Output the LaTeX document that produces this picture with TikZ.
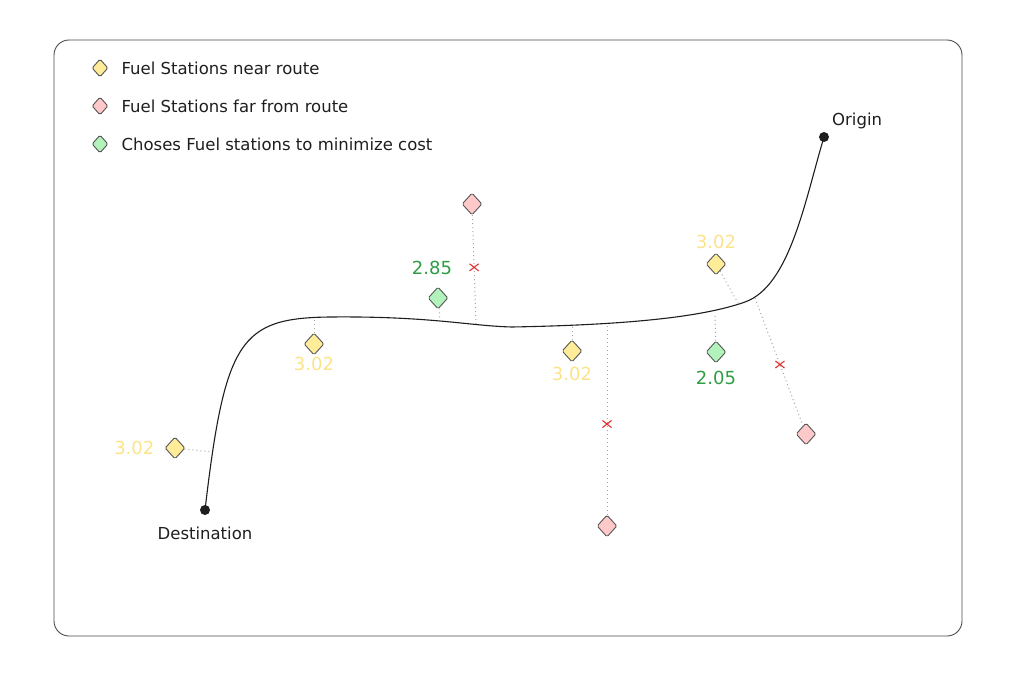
\documentclass[tikz,border=0pt]{standalone}
\usepackage{fontspec}
\setmainfont{DejaVu Sans}
\usetikzlibrary{shapes.geometric,shapes.misc,positioning}

\definecolor{nearfill}{HTML}{FFEC99}
\definecolor{farfill}{HTML}{FFC9C9}
\definecolor{pickfill}{HTML}{B2F2BB}
\definecolor{nearink}{HTML}{FCE38A}
\definecolor{pickink}{HTML}{2F9E44}
\definecolor{crossink}{HTML}{E03131}
\definecolor{inkdark}{HTML}{1E1E1E}

\tikzset{
  station/.style={diamond, draw=inkdark!75, line width=0.9pt, rounded corners=1.5pt,
    minimum width=20pt, minimum height=22pt, inner sep=0pt},
  near/.style={station, fill=nearfill},
  far/.style={station, fill=farfill},
  pick/.style={station, fill=pickfill},
  legmark/.style={minimum width=16pt, minimum height=18pt},
  legtext/.style={inner sep=0pt, font=\fontsize{16.5}{19}\selectfont, text=inkdark},
  link/.style={gray!70, line width=1pt, dash pattern=on 1pt off 3pt},
  nearcost/.style={inner sep=0pt, font=\fontsize{18}{21}\selectfont, text=nearink},
  pickcost/.style={inner sep=0pt, font=\fontsize{18}{21}\selectfont, text=pickink},
  reject/.style={cross out, solid, draw=crossink, line width=1.1pt, minimum width=8pt,
    minimum height=6pt, inner sep=0pt},
}

\begin{document}
\begin{tikzpicture}[x=1pt, y=-1pt]
  \useasboundingbox (0,0) rectangle (1022,679);

  % Frame
  \draw[inkdark!80, line width=0.9pt, rounded corners=15pt] (54,40) rectangle (962,636);

  % Legend
  \node[near, legmark] (legnear) at (100,68)  {};
  \node[far,  legmark] (legfar)  at (100,106) {};
  \node[pick, legmark] (legpick) at (100,144) {};
  \node[legtext, right=13pt of legnear] (txtnear) {Fuel Stations near route};
  \node[legtext, right=13pt of legfar]  (txtfar)  {Fuel Stations far from route};
  \node[legtext, right=13pt of legpick] (txtpick) {Choses Fuel stations to minimize cost};

  % Route: Destination -> Origin
  \coordinate (D) at (205,510);
  \coordinate (O) at (824,137);
  \draw[inkdark, line width=1.1pt] (D)
    .. controls (225,340) and (240,318) .. (330,317)
    .. controls (430,316) and (470,326) .. (512,327)
    .. controls (620,325) and (700,318) .. (745,302)
    .. controls (790,286) and (805,200) .. (O);

  % Points on the route
  \coordinate (r1) at (212,452);
  \coordinate (r2) at (314,318);
  \coordinate (r3) at (440,320);
  \coordinate (r4) at (476,324);
  \coordinate (r5) at (572,327);
  \coordinate (r6) at (607,326);
  \coordinate (r7) at (715,316);
  \coordinate (r8) at (738,303);
  \coordinate (r9) at (755,298);

  % Stations
  \node[near] (n1) at (175,448) {};
  \node[near] (n2) at (314,344) {};
  \node[near] (n3) at (572,351) {};
  \node[near] (n4) at (716,264) {};
  \node[far]  (f1) at (472,204) {};
  \node[far]  (f2) at (607,526) {};
  \node[far]  (f3) at (806,434) {};
  \node[pick] (p1) at (438,298) {};
  \node[pick] (p2) at (716,352) {};

  % Links to the route
  \draw[link] (n1) -- (r1);
  \draw[link] (n2) -- (r2);
  \draw[link] (n3) -- (r5);
  \draw[link] (n4) -- (r8);
  \draw[link] (p1) -- (r3);
  \draw[link] (p2) -- (r7);
  \draw[link] (f1) -- (r4) node[reject, pos=0.48] (x1) {};
  \draw[link] (f2) -- (r6) node[reject, pos=0.48] (x2) {};
  \draw[link] (r9) -- (f3) node[reject, pos=0.52] (x3) {};

  % Costs
  \node[nearcost, left=10pt of n1] (c1) {3.02};
  \node[nearcost, below=1pt of n2] (c2) {3.02};
  \node[nearcost, below=4pt of n3] (c3) {3.02};
  \node[nearcost, above=4pt of n4] (c4) {3.02};
  \node[pickcost] (c5) at (432,268) {2.85};
  \node[pickcost, below=7pt of p2] (c6) {2.05};

  % End points
  \fill[inkdark] (O) circle (5pt) node[legtext, above right=8pt and 8pt] (lorig) {Origin};
  \fill[inkdark] (D) circle (5pt) node[legtext, below=17pt] (ldest) {Destination};
\end{tikzpicture}
\end{document}
